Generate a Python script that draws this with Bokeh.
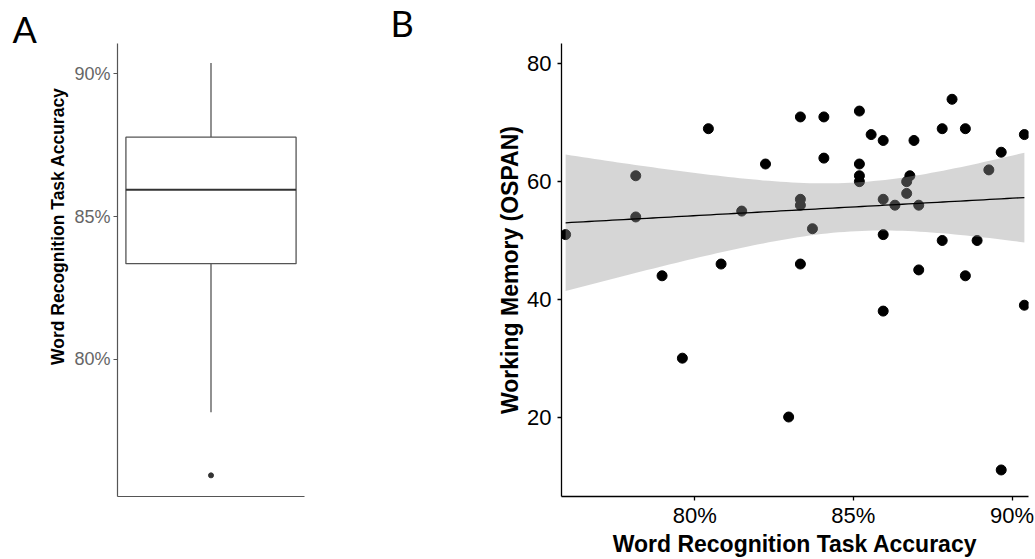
import numpy as np
from bokeh.plotting import figure
from bokeh.layouts import row
from bokeh.models import Range1d, FactorRange, FixedTicker
from bokeh.embed import file_html
from bokeh.resources import INLINE

# ---------------- data ----------------
# Panel A: box plot summary of word recognition accuracy (percent)
box_group = ["all"]
box_q1 = [83.35]
box_median = [85.94]
box_q3 = [87.78]
whisker_low = [78.15]
whisker_high = [90.38]
box_outliers = [75.94]

acc_ticks = [80, 85, 90]
acc_tick_labels = ["80%", "85%", "90%"]
ospan_ticks = [20, 40, 60, 80]

# Panel B: accuracy (%) vs OSPAN score
accuracy = [75.93, 78.14, 78.14, 78.97, 79.61, 80.43, 80.83, 81.48, 82.23, 82.96,
            83.33, 83.33, 83.33, 83.33, 83.71, 84.07, 84.07, 85.19, 85.19, 85.19, 85.19, 85.56,
            85.94, 85.94, 85.94, 85.94, 86.31, 86.68, 86.68, 86.78, 86.91, 87.06, 87.06, 87.80, 87.80,
            88.11, 88.53, 88.53, 88.90, 89.27, 89.66, 89.66, 90.39, 90.39]
ospan = [51, 61, 54, 44, 30, 69, 46, 55, 63, 20,
         71, 57, 56, 46, 52, 71, 64, 72, 63, 61, 60, 68,
         67, 57, 51, 38, 56, 60, 58, 61, 67, 56, 45, 69, 50,
         74, 69, 44, 50, 62, 65, 11, 68, 39]

FONT = "Liberation Sans"
NBSP = "\u00a0"

# ---------------- panel A ----------------
pA = figure(width=338, height=559, output_backend="svg", toolbar_location=None,
            x_range=FactorRange(factors=box_group), y_range=Range1d(75.2, 91.06),
            min_border_left=117, min_border_right=34, min_border_top=42, min_border_bottom=53,
            title="A")
pA.outline_line_color = None
pA.grid.visible = False
pA.background_fill_color = "white"
pA.title.align = "left"
pA.title.offset = -105
pA.title.standoff = -14
pA.title.text_font = "Lato"
pA.title.text_font_size = "36px"
pA.title.text_font_style = "normal"
pA.title.text_color = "black"

box_line = "#555555"
pA.segment(x0=box_group, y0=box_q3, x1=box_group, y1=whisker_high, line_color=box_line, line_width=1.3)
pA.segment(x0=box_group, y0=box_q1, x1=box_group, y1=whisker_low, line_color=box_line, line_width=1.3)
pA.vbar(x=box_group, width=0.91, bottom=box_q1, top=box_q3, fill_color="white",
        line_color=box_line, line_width=1.3)
pA.vbar(x=box_group, width=0.91, bottom=box_median, top=box_median, fill_color=None,
        line_color="#333333", line_width=2.2)
pA.scatter(x=box_group * len(box_outliers), y=box_outliers, size=5, color="#333333")

xa = pA.xaxis[0]
xa.axis_line_color = box_line
xa.axis_line_width = 1.2
xa.major_tick_line_color = None
xa.minor_tick_line_color = None
xa.major_label_text_color = None
xa.major_label_text_font_size = "1px"

ya = pA.yaxis[0]
ya.ticker = FixedTicker(ticks=acc_ticks)
ya.major_label_overrides = dict(zip(acc_ticks, acc_tick_labels))
ya.axis_line_color = box_line
ya.axis_line_width = 1.2
ya.major_tick_line_color = box_line
ya.major_tick_line_width = 1.2
ya.major_tick_out = 4
ya.major_tick_in = 0
ya.minor_tick_line_color = None
ya.major_label_standoff = 3
ya.major_label_text_font = FONT
ya.major_label_text_font_size = "18px"
ya.major_label_text_color = "#666666"
ya.axis_label = NBSP * 18 + "Word Recognition Task Accuracy"
ya.axis_label_text_font = FONT
ya.axis_label_text_font_size = "17.5px"
ya.axis_label_text_font_style = "bold"
ya.axis_label_text_color = "black"
ya.axis_label_standoff = 3

# ---------------- panel B ----------------
pB = figure(width=697, height=559, output_backend="svg", toolbar_location=None,
            x_range=Range1d(75.80, 90.52), y_range=Range1d(6.49, 83.48),
            min_border_left=223, min_border_right=7, min_border_top=42, min_border_bottom=57,
            title="B")
pB.outline_line_color = None
pB.grid.visible = False
pB.background_fill_color = "white"
pB.title.align = "left"
pB.title.offset = -171
pB.title.standoff = -3
pB.title.text_font = "Lato"
pB.title.text_font_size = "36px"
pB.title.text_font_style = "normal"
pB.title.text_color = "black"

xs = np.array(accuracy, dtype=float)
ys = np.array(ospan, dtype=float)
n = len(xs)
slope, intercept = np.polyfit(xs, ys, 1)
xg = np.linspace(xs.min(), xs.max(), 80)
fit = intercept + slope * xg
resid = ys - (intercept + slope * xs)
s = np.sqrt(np.sum(resid ** 2) / (n - 2))
xm = xs.mean()
sxx = np.sum((xs - xm) ** 2)
se = s * np.sqrt(1.0 / n + (xg - xm) ** 2 / sxx)
t_crit = 2.018  # t(0.975, df=42)

pB.scatter(accuracy, ospan, size=10, color="black")
pB.varea(x=xg, y1=fit - t_crit * se, y2=fit + t_crit * se, fill_color="#999999", fill_alpha=0.4)
pB.line(xg, fit, line_color="black", line_width=1.3)

for ax in (pB.xaxis[0], pB.yaxis[0]):
    ax.axis_line_color = "black"
    ax.axis_line_width = 1.3
    ax.major_tick_line_color = "black"
    ax.major_tick_line_width = 1.3
    ax.major_tick_out = 4
    ax.major_tick_in = 0
    ax.minor_tick_line_color = None
    ax.major_label_text_font = FONT
    ax.major_label_text_font_size = "22px"
    ax.major_label_text_color = "black"
    ax.axis_label_text_font = FONT
    ax.axis_label_text_font_size = "23px"
    ax.axis_label_text_font_style = "bold"
    ax.axis_label_text_color = "black"

xb = pB.xaxis[0]
xb.ticker = FixedTicker(ticks=acc_ticks)
xb.major_label_overrides = dict(zip(acc_ticks, acc_tick_labels))
xb.major_label_standoff = 2
xb.axis_label = "Word Recognition Task Accuracy"
xb.axis_label_standoff = 0

yb = pB.yaxis[0]
yb.ticker = FixedTicker(ticks=ospan_ticks)
yb.major_label_standoff = 6
yb.axis_label = "Working Memory (OSPAN)"
yb.axis_label_standoff = 1

layout = row(pA, pB)
open("out.html", "w").write(file_html(layout, INLINE))
